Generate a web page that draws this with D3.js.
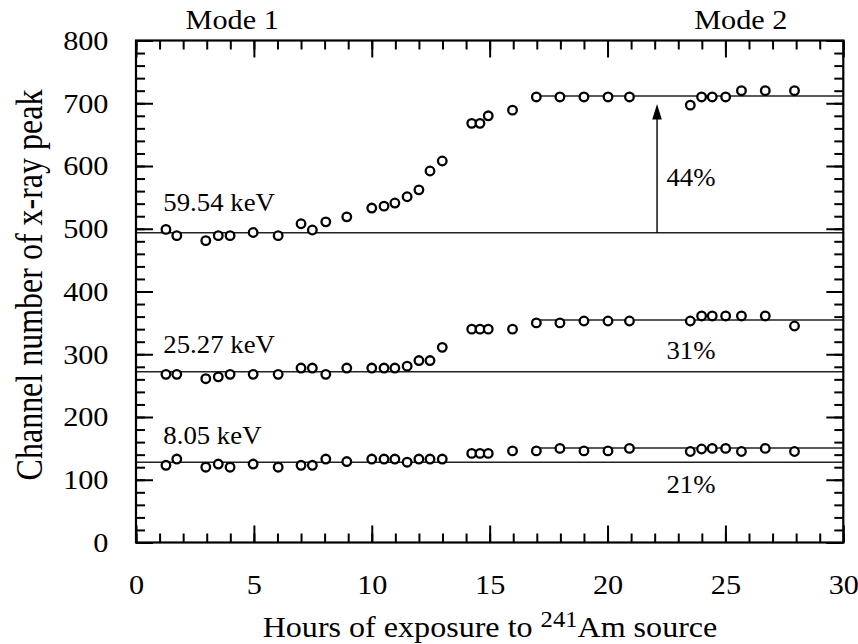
<!DOCTYPE html>
<html>
<head>
<meta charset="utf-8">
<script src="https://cdn.jsdelivr.net/npm/d3@7"></script>
<style>
  body { margin: 0; background: #fff; }
  svg { display: block; }
  text { font-family: "Liberation Serif", "Times New Roman", serif; fill: #000; }
</style>
</head>
<body>
<script>
// values
const hours = [1.27, 1.73, 2.96, 3.49, 3.99, 4.97, 6.03, 7.0, 7.48, 8.05, 8.94, 10.0, 10.52, 10.98, 11.5,
  12.0, 12.47, 12.99, 14.24, 14.59, 14.94, 15.97, 16.98, 17.98, 19.0, 20.02, 20.93, 23.51, 23.99, 24.44,
  25.01, 25.68, 26.69, 27.93];
const peak59 = [499, 489, 481, 489, 489, 494, 489, 508, 498, 511, 519, 533, 536, 541, 551,
  562, 592, 608, 668, 668, 680, 689, 710, 710, 710, 710, 710, 697, 710, 710,
  710, 720, 720, 720];
const peak25 = [268, 268, 261, 264, 268, 268, 268, 278, 278, 268, 278, 278, 278, 278, 281,
  290, 290, 311, 340, 340, 340, 340, 350, 350, 353, 353, 353, 353, 361, 361,
  361, 361, 361, 345];
const peak8 = [123, 133, 120, 125, 120, 125, 120, 123, 123, 133, 129, 133, 133, 133, 128,
  133, 133, 133, 142, 142, 142, 146, 146, 150, 146, 146, 150, 145, 149, 150,
  150, 145, 150, 145];
const energyLabels = ["59.54 keV", "25.27 keV", "8.05 keV"];
const mode1Levels = [493.7, 272.2, 127.8];
const mode2Levels = [711.6, 354.6, 150.6];
const mode2Start = 17;
const gainLabels = ["44%", "31%", "21%"];
const labelValues = [528.8, 301.5, 156.5];
const gainValues = [568.6, 292, 78.4];
const arrowHour = 22.1;
const arrowFrom = 493.7, arrowTo = 698.8;
const xTicks = [0, 5, 10, 15, 20, 25, 30];
const yTicks = [0, 100, 200, 300, 400, 500, 600, 700, 800];
const modeLabels = ["Mode 1", "Mode 2"];
const modeHours = [4.08, 25.65];

const width = 858, height = 644;
const sx = 1.08; // the type in the original is a little wide
const x = d3.scaleLinear().domain([0, 30]).range([136, 843.3]);
const y = d3.scaleLinear().domain([0, 800]).range([542.5, 40.5]);

const svg = d3.select("body").append("svg")
  .attr("width", width)
  .attr("height", height);

// reference levels
const levels = svg.append("g").attr("stroke", "#222").attr("stroke-width", 1.4);
levels.selectAll(".lvl1").data(mode1Levels).enter().append("line")
  .attr("x1", x(0)).attr("x2", x(30))
  .attr("y1", d => y(d)).attr("y2", d => y(d));
levels.selectAll(".lvl2").data(mode2Levels).enter().append("line")
  .attr("x1", x(mode2Start)).attr("x2", x(30))
  .attr("y1", d => y(d)).attr("y2", d => y(d));

// arrow for the 59.54 keV gain
const ax = x(arrowHour), tip = y(arrowTo);
svg.append("line")
  .attr("x1", ax).attr("x2", ax)
  .attr("y1", y(arrowFrom)).attr("y2", tip + 10)
  .attr("stroke", "#000").attr("stroke-width", 1.4);
svg.append("path")
  .attr("d", `M${ax},${tip}L${ax + 4.8},${tip + 15.5}L${ax - 4.8},${tip + 15.5}Z`)
  .attr("fill", "#000");

// data points
const series = [peak59, peak25, peak8];
series.forEach(vals => {
  svg.append("g").selectAll("circle")
    .data(hours.map((h, i) => [h, vals[i]]))
    .enter().append("circle")
    .attr("cx", d => x(d[0]))
    .attr("cy", d => y(d[1]))
    .attr("r", 4.3)
    .attr("fill", "#fff")
    .attr("stroke", "#000")
    .attr("stroke-width", 2.3);
});

// axes, ticks pointing inward
function styleAxis(g) {
  g.select(".domain").remove();
  g.selectAll(".tick line").attr("stroke", "#000").attr("stroke-width", 2);
  g.selectAll(".tick text")
    .style("font-size", "28px")
    .attr("fill", "#000")
    .attr("transform", `scale(${sx},1)`);
}
const minorX = d3.range(0, 31, 1), minorY = d3.range(0, 801, 20);

svg.append("g").attr("transform", `translate(0,${y(0)})`)
  .call(d3.axisBottom(x).tickValues(minorX).tickSize(-9).tickFormat(""))
  .call(styleAxis);
svg.append("g").attr("transform", `translate(0,${y(0)})`)
  .call(d3.axisBottom(x).tickValues(xTicks).tickSize(-17).tickPadding(32).tickFormat(d3.format("d")))
  .call(styleAxis);
svg.append("g").attr("transform", `translate(0,${y(800)})`)
  .call(d3.axisTop(x).tickValues(minorX).tickSize(-9).tickFormat(""))
  .call(styleAxis);
svg.append("g").attr("transform", `translate(0,${y(800)})`)
  .call(d3.axisTop(x).tickValues(xTicks).tickSize(-17).tickFormat(""))
  .call(styleAxis);

svg.append("g").attr("transform", `translate(${x(0)},0)`)
  .call(d3.axisLeft(y).tickValues(minorY).tickSize(-9).tickFormat(""))
  .call(styleAxis);
svg.append("g").attr("transform", `translate(${x(0)},0)`)
  .call(d3.axisLeft(y).tickValues(yTicks).tickSize(-17).tickPadding(25.5).tickFormat(d3.format("d")))
  .call(styleAxis);
svg.append("g").attr("transform", `translate(${x(30)},0)`)
  .call(d3.axisRight(y).tickValues(minorY).tickSize(-9).tickFormat(""))
  .call(styleAxis);
svg.append("g").attr("transform", `translate(${x(30)},0)`)
  .call(d3.axisRight(y).tickValues(yTicks).tickSize(-17).tickFormat(""))
  .call(styleAxis);

svg.append("rect")
  .attr("x", x(0)).attr("y", y(800))
  .attr("width", x(30) - x(0)).attr("height", y(0) - y(800))
  .attr("fill", "none").attr("stroke", "#000").attr("stroke-width", 2.2);

// labels
svg.selectAll(".energy").data(energyLabels).enter().append("text")
  .attr("transform", (d, i) => `translate(${x(1.16)},${y(labelValues[i])}) scale(1.03,1)`)
  .style("font-size", "26px")
  .text(d => d);
svg.selectAll(".gain").data(gainLabels).enter().append("text")
  .attr("transform", (d, i) => `translate(${x(22.5)},${y(gainValues[i])}) scale(1.03,1)`)
  .style("font-size", "26px")
  .text(d => d);
svg.selectAll(".mode").data(modeLabels).enter().append("text")
  .attr("transform", (d, i) => `translate(${x(modeHours[i])},28.5) scale(${sx},1)`)
  .attr("text-anchor", "middle")
  .style("font-size", "28px")
  .text(d => d);

const xt = svg.append("text")
  .attr("transform", `translate(490,636.5) scale(1.07,1)`)
  .attr("text-anchor", "middle")
  .style("font-size", "30px");
xt.append("tspan").text("Hours of exposure to ");
xt.append("tspan").attr("dy", -10).style("font-size", "23px").text("241");
xt.append("tspan").attr("dy", 10).text("Am source");

svg.append("text")
  .attr("transform", "translate(42,285) scale(1.2,1) rotate(-90)")
  .attr("text-anchor", "middle")
  .style("font-size", "32px")
  .text("Channel number of x-ray peak");
</script>
</body>
</html>
